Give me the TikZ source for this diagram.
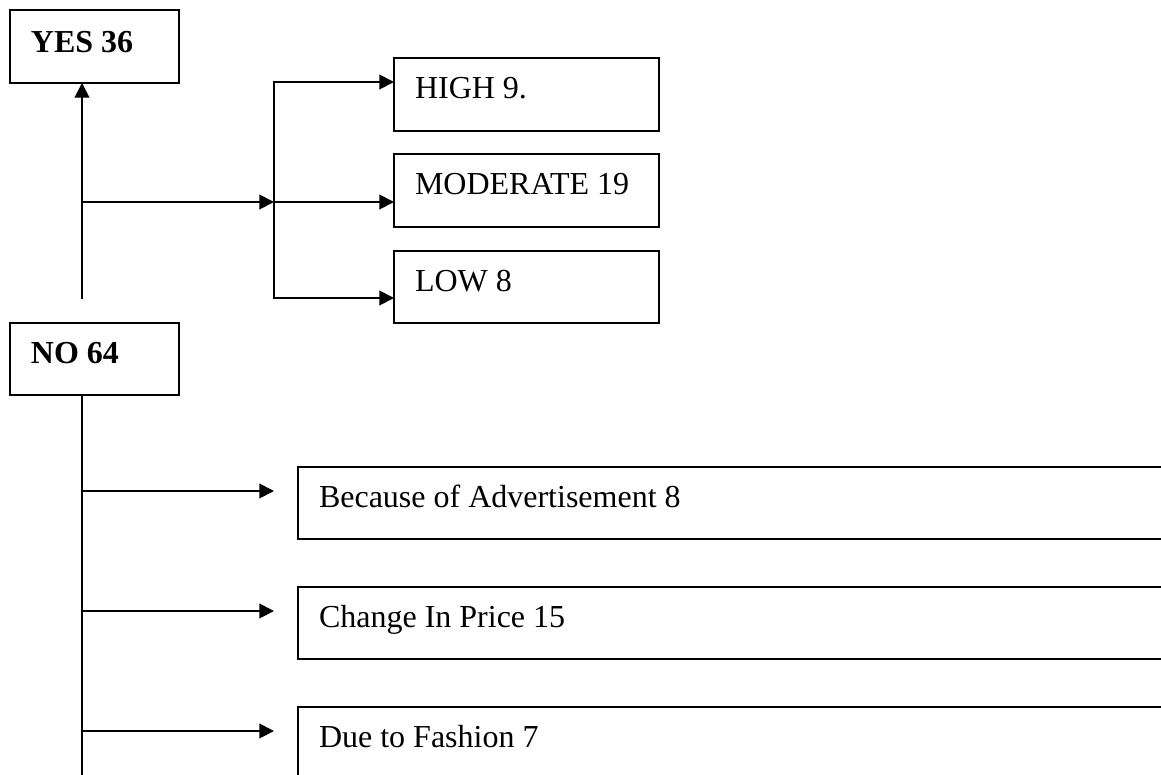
\documentclass[tikz,border=0pt]{standalone}
\usepackage{fontspec}
\setmainfont{Liberation Serif}
\usetikzlibrary{arrows.meta}
\tikzset{
  wire/.style={line width=1.5pt},
  arr/.style={line width=1.5pt, -{Triangle[length=11pt,width=11pt]}},
  box/.style={draw, line width=1.5pt, anchor=north west, outer sep=0pt,
    inner xsep=15.75pt, inner ysep=0pt, align=flush left,
    text height=30pt, text depth=24pt,
    font=\fontsize{24pt}{28pt}\selectfont},
  headbox/.style={box, text width=95.25pt,
    font=\fontsize{24pt}{28pt}\selectfont\bfseries},
  levelbox/.style={box, text width=167.25pt},
  reasonbox/.style={box, text width=645pt},
}
\begin{document}
\begin{tikzpicture}[x=0.75pt,y=-0.75pt]
\clip (0,0) rectangle (1161,775);
\fill[white] (0,0) rectangle (1161,775);

% answer boxes
\node[headbox, text height=31.5pt, text depth=23.25pt] (yes) at (10,10) {YES 36};
\node[headbox] (no) at (10,323) {NO 64};

% degree boxes
\node[levelbox, text depth=24.75pt] (high) at (394,58) {HIGH 9.};
\node[levelbox, text depth=24.75pt] (mod) at (394,154) {MODERATE 19};
\node[levelbox] (low) at (394,251) {LOW 8};

% reason boxes
\node[reasonbox] (adv) at (298,467) {Because of Advertisement 8};
\node[reasonbox] (price) at (298,587) {Change In Price 15};
\node[reasonbox] (fash) at (298,707) {Due to Fashion 7};

% stem from NO up to YES
\coordinate (up) at (82,299);
\draw[arr] (up) -- (up |- yes.south);

% branch to the degree boxes
\coordinate (hub) at (274,202);
\draw[arr] (up |- hub) -- (hub);
\draw[arr] (hub) |- (high.west |- 0,82);
\draw[arr] (hub) -- (mod.west |- hub);
\draw[arr] (hub) |- (low.west |- 0,298);

% trunk below NO with the reason arrows
\coordinate (trunkend) at (82,790);
\draw[wire] (no.south -| up) -- (trunkend);
\coordinate (r1) at (82,491);
\coordinate (r2) at (82,611);
\coordinate (r3) at (82,731);
\draw[arr, shorten >=18pt] (r1) -- (r1 -| adv.west);
\draw[arr, shorten >=18pt] (r2) -- (r2 -| price.west);
\draw[arr, shorten >=18pt] (r3) -- (r3 -| fash.west);
\end{tikzpicture}
\end{document}
